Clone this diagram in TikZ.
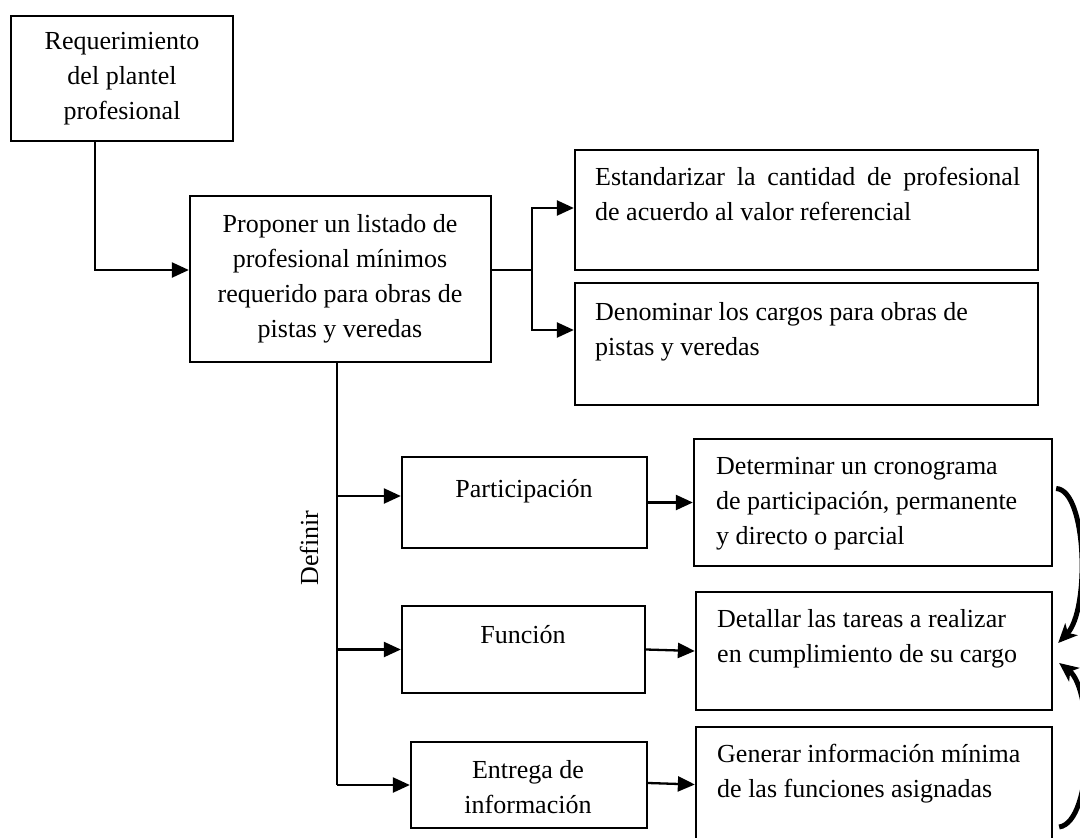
\documentclass[tikz,border=0pt]{standalone}
\usepackage{fontspec}
\setmainfont{Liberation Serif}
\usetikzlibrary{arrows.meta,calc}
\begin{document}
\begin{tikzpicture}[x=1pt,y=-1pt,
  box/.style={draw,line width=2.3pt,inner sep=0pt},
  txt/.style={inner sep=0pt,font=\fontsize{26}{35}\selectfont},
  conn/.style={line width=2.3pt},
  arr/.style={line width=2.3pt,-{Triangle[length=17pt,width=15pt]}},
  curvarr/.style={line width=5pt,-{Stealth[length=19pt,width=17pt,inset=5pt]}}]
\useasboundingbox (0,0) rectangle (1080,838);
% boxes
\node[box,minimum width=222pt,minimum height=125pt] (b1) at (122,78.5) {};
\node[box,minimum width=301pt,minimum height=166pt] (b2) at (340.5,279) {};
\node[box,minimum width=463pt,minimum height=120pt] (b3) at (806.5,210) {};
\node[box,minimum width=463pt,minimum height=122pt] (b4) at (806.5,344) {};
\node[box,minimum width=245pt,minimum height=91pt] (p1) at (524.5,502.5) {};
\node[box,minimum width=243pt,minimum height=87pt] (f1) at (523.5,649.5) {};
\node[box,minimum width=236pt,minimum height=86pt] (e1) at (529,785) {};
\node[box,minimum width=358pt,minimum height=127pt] (p2) at (873,502.5) {};
\node[box,minimum width=356pt,minimum height=118pt] (f2) at (874,651) {};
\node[box,minimum width=356pt,minimum height=119pt] (e2) at (874,786.5) {};
% texts
\node[txt,anchor=north,align=center] (t1) at (122,32) {Requerimiento\\del plantel\\profesional};
\node[txt,anchor=north,align=center] (t2) at (340,214) {Proponer un listado de\\profesional mínimos\\requerido para obras de\\pistas y veredas};
\node[txt,anchor=north west,align=left] (t3) at (595,167) {\makebox[425pt][s]{Estandarizar la cantidad de profesional}\\de acuerdo al valor referencial};
\node[txt,anchor=north west,align=left] (t4) at (595,302) {Denominar los cargos para obras de\\pistas y veredas};
\node[txt,anchor=base] (tp1) at (524,497) {Participación};
\node[txt,anchor=base] (tf1) at (523,643) {Función};
\node[txt,anchor=north,align=center] (te1) at (528,760) {Entrega de\\información};
\node[txt,anchor=north west,align=left] (tp2) at (716,457) {Determinar un cronograma\\de participación, permanente\\y directo o parcial};
\node[txt,anchor=north west,align=left] (tf2) at (717,609) {Detallar las tareas a realizar\\en cumplimiento de su cargo};
\node[txt,anchor=north west,align=left] (te2) at (717,744) {Generar información mínima\\de las funciones asignadas};
\node[txt,rotate=90] (def) at (309,548) {Definir};
% connectors
\coordinate (j1) at (532,270);
\coordinate (s1) at (337,785);
\draw[arr] ([xshift=-27pt]b1.south) |- ([yshift=9pt]b2.west);
\draw[conn] ([yshift=9pt]b2.east) -- (j1);
\draw[arr] (j1) |- ([yshift=2pt]b3.west);
\draw[arr] (j1) |- ([yshift=14pt]b4.west);
\draw[conn] ([xshift=-3.5pt]b2.south) -- (s1);
\draw[arr] (s1 |- p1.west) ++(0,-6.5) -- ([yshift=6.5pt]p1.west);
\draw[arr] (s1 |- f1.west) -- (f1.west);
\draw[arr] (s1) -- (e1.west);
\draw[arr] (p1.east) -- (p2.west);
\draw[arr] (f1.east) -- (f2.west);
\draw[arr] ([yshift=2pt]e1.east) -- ([yshift=2pt]e2.west);
% curved arrows
\draw[curvarr] ([xshift=3pt,yshift=14pt]p2.east) .. controls (1087,490) and (1090,610) .. ([xshift=5pt,yshift=8pt]f2.east);
\draw[curvarr] ([xshift=6pt,yshift=-40.5pt]e2.east) .. controls (1094,822) and (1094,690) .. ([xshift=6pt,yshift=-12pt]f2.east);
\end{tikzpicture}
\end{document}
